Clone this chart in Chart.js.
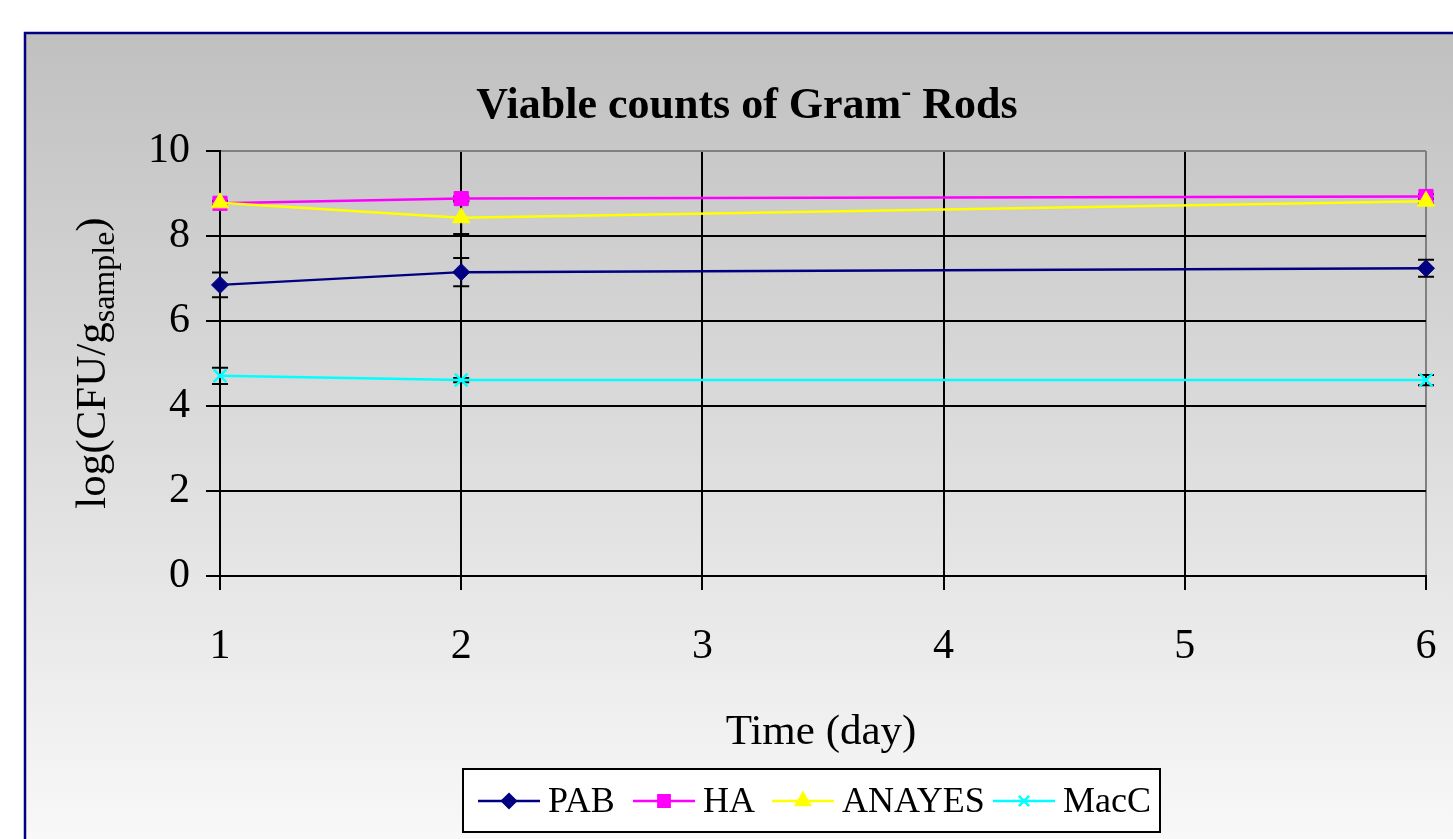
<!DOCTYPE html>
<html><head><meta charset="utf-8">
<script src="https://cdn.jsdelivr.net/npm/chart.js@4"></script>
<style>html,body{margin:0;padding:0;background:#fff;overflow:hidden}#wrap{position:absolute;left:0;top:0;width:1453px;height:839px}</style>
</head><body><div id="wrap"><canvas id="c" width="1453" height="839"></canvas></div>
<script>
const days = [1, 2, 6];
const seriesNames = ['PAB', 'HA', 'ANAYES', 'MacC'];
const pabValues = [6.85, 7.15, 7.24];
const haValues = [8.77, 8.88, 8.93];
const anayesValues = [8.78, 8.43, 8.82];
const maccValues = [4.71, 4.61, 4.61];
const pabErrors = [0.29, 0.33, 0.2];
const haErrors = [0.05, 0.05, 0.05];
const anayesErrors = [0.05, 0.38, 0.05];
const maccErrors = [0.19, 0.05, 0.12];
const yTicks = [0, 2, 4, 6, 8, 10];
const xTicks = [1, 2, 3, 4, 5, 6];
const titleMain = 'Viable counts of Gram';
const titleSup = '-';
const titleEnd = ' Rods';
const xTitle = 'Time (day)';
const yTitleMain = 'log(CFU/g';
const yTitleSub = 'sample';
const yTitleEnd = ')';

const colors = ['#000080', '#ff00ff', '#ffff00', '#00ffff'];
const styles = ['rectRot', 'rect', 'triangle', 'crossRot'];
const radii = [8.5, 10, 10, 9];
const values = [pabValues, haValues, anayesValues, maccValues];
const errors = [pabErrors, haErrors, anayesErrors, maccErrors];
const SERIF = '"Liberation Serif", "Times New Roman", serif';

const datasets = seriesNames.map((n, i) => ({
  label: n,
  data: days.map((d, j) => ({x: d, y: values[i][j]})),
  errors: errors[i],
  order: seriesNames.length - i,
  borderColor: colors[i],
  backgroundColor: colors[i],
  borderWidth: 2.5,
  pointStyle: styles[i],
  pointRadius: radii[i],
  pointBorderWidth: styles[i] === 'crossRot' ? 2.5 : 1,
  pointBorderColor: colors[i],
  pointBackgroundColor: colors[i],
  tension: 0,
  clip: false
}));

const bgPlugin = {
  id: 'bg',
  beforeDraw(chart) {
    const ctx = chart.ctx;
    ctx.save();
    ctx.fillStyle = '#fff';
    ctx.fillRect(0, 0, chart.width, chart.height);
    const g = ctx.createLinearGradient(0, 33, 0, 839);
    g.addColorStop(0, '#c0c0c0');
    g.addColorStop(1, '#f8f8f8');
    ctx.fillStyle = g;
    ctx.fillRect(25, 33, chart.width - 25, chart.height - 33);
    ctx.strokeStyle = '#000080';
    ctx.lineWidth = 2.5;
    ctx.beginPath();
    ctx.moveTo(25, chart.height);
    ctx.lineTo(25, 33);
    ctx.lineTo(chart.width, 33);
    ctx.stroke();
    ctx.restore();
  }
};

const errPlugin = {
  id: 'errbars',
  beforeDatasetsDraw(chart) {
    const ctx = chart.ctx, xs = chart.scales.x, ys = chart.scales.y;
    ctx.save();
    ctx.strokeStyle = '#000';
    ctx.lineWidth = 2;
    chart.data.datasets.forEach(ds => {
      ds.data.forEach((p, j) => {
        const e = ds.errors[j];
        const px = xs.getPixelForValue(p.x);
        const y1 = ys.getPixelForValue(p.y + e), y2 = ys.getPixelForValue(p.y - e);
        ctx.beginPath();
        ctx.moveTo(px, y1); ctx.lineTo(px, y2);
        ctx.moveTo(px - 8, y1); ctx.lineTo(px + 8, y1);
        ctx.moveTo(px - 8, y2); ctx.lineTo(px + 8, y2);
        ctx.stroke();
      });
    });
    ctx.restore();
  }
};

const textPlugin = {
  id: 'texts',
  afterDraw(chart) {
    const ctx = chart.ctx;
    ctx.save();
    ctx.fillStyle = '#000';
    ctx.textBaseline = 'alphabetic';
    // title
    const tf = 'bold 44px ' + SERIF, sf = 'bold 30px ' + SERIF;
    ctx.font = tf;
    const w1 = ctx.measureText(titleMain).width;
    const w3 = ctx.measureText(titleEnd).width;
    ctx.font = sf;
    const w2 = ctx.measureText(titleSup).width;
    let tx = 747 - (w1 + w2 + w3) / 2;
    const ty = 118;
    ctx.textAlign = 'left';
    ctx.font = tf; ctx.fillText(titleMain, tx, ty); tx += w1;
    ctx.font = sf; ctx.fillText(titleSup, tx, ty - 17); tx += w2;
    ctx.font = tf; ctx.fillText(titleEnd, tx, ty);
    // x title
    ctx.font = '43px ' + SERIF;
    ctx.textAlign = 'center';
    ctx.fillText(xTitle, 821, 744);
    // y title
    ctx.translate(105, 363);
    ctx.rotate(-Math.PI / 2);
    const mf = '43px ' + SERIF, bf = '32px ' + SERIF;
    ctx.font = mf;
    const a = ctx.measureText(yTitleMain).width, c = ctx.measureText(yTitleEnd).width;
    ctx.font = bf;
    const b = ctx.measureText(yTitleSub).width;
    let yx = -(a + b + c) / 2;
    ctx.textAlign = 'left';
    ctx.font = mf; ctx.fillText(yTitleMain, yx, 0); yx += a;
    ctx.font = bf; ctx.fillText(yTitleSub, yx, 9); yx += b;
    ctx.font = mf; ctx.fillText(yTitleEnd, yx, 0);
    ctx.restore();

    // legend
    ctx.save();
    ctx.fillStyle = '#fff';
    ctx.fillRect(463, 769, 697, 63);
    ctx.strokeStyle = '#000';
    ctx.lineWidth = 2;
    ctx.strokeRect(463, 769, 697, 63);
    const lx = [478, 633, 772, 993];
    const ly = 801;
    chart.data.datasets.forEach((ds, i) => {
      ctx.strokeStyle = ds.borderColor;
      ctx.lineWidth = 2.5;
      ctx.beginPath(); ctx.moveTo(lx[i], ly); ctx.lineTo(lx[i] + 62, ly); ctx.stroke();
      ctx.fillStyle = ds.backgroundColor;
      Chart.helpers.drawPoint(ctx, {pointStyle: ds.pointStyle, radius: ds.pointRadius * 0.8, borderWidth: ds.pointBorderWidth, rotation: 0}, lx[i] + 31, ly);
      ctx.fillStyle = '#000';
      ctx.font = '36px ' + SERIF;
      ctx.textAlign = 'left';
      ctx.textBaseline = 'middle';
      ctx.fillText(ds.label, lx[i] + 70, ly + 2);
    });
    ctx.restore();
  }
};

new Chart(document.getElementById('c'), {
  type: 'line',
  data: {datasets},
  plugins: [bgPlugin, errPlugin, textPlugin],
  options: {
    responsive: false,
    animation: false,
    devicePixelRatio: 1,
    layout: {padding: {left: 0, top: 151, right: 27, bottom: 0}},
    plugins: {legend: {display: false}, title: {display: false}, tooltip: {enabled: false}},
    scales: {
      x: {
        type: 'linear', min: 1, max: 6,
        afterFit(s) { s.height = 263; s.paddingLeft = 0; s.paddingRight = 0; },
        afterBuildTicks(s) { s.ticks = xTicks.map(v => ({value: v})); },
        ticks: {color: '#000', font: {family: SERIF, size: 42}, padding: 32, maxRotation: 0},
        grid: {color: ctx => (ctx.tick && ctx.tick.value === 6) ? '#808080' : '#000', lineWidth: 2, tickColor: '#000', tickLength: 14},
        border: {display: true, color: '#000', width: 2}
      },
      y: {
        min: 0, max: 10,
        afterFit(s) { s.width = 220; s.paddingTop = 0; s.paddingBottom = 0; },
        afterBuildTicks(s) { s.ticks = yTicks.map(v => ({value: v})); },
        ticks: {color: '#000', font: {family: SERIF, size: 42}, padding: 16},
        grid: {color: ctx => (ctx.tick && ctx.tick.value === 10) ? '#808080' : '#000', lineWidth: 2, tickColor: '#000', tickLength: 14},
        border: {display: true, color: '#000', width: 2}
      }
    }
  }
});
</script></body></html>
